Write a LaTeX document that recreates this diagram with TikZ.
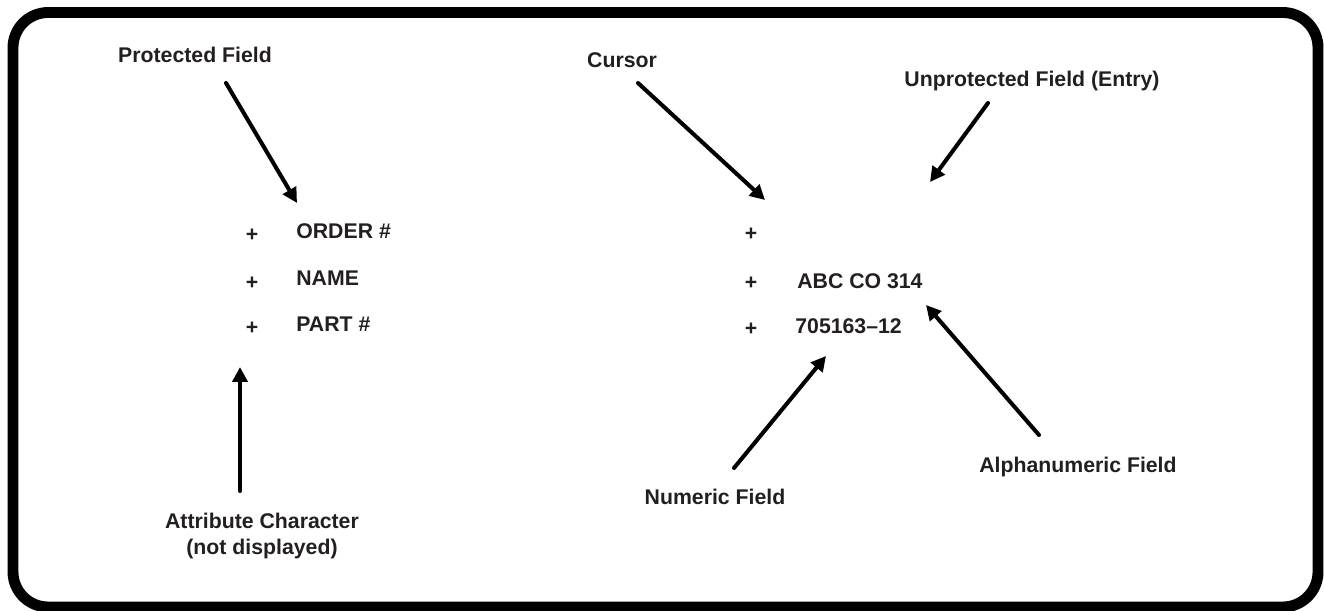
\documentclass[tikz,border=0pt]{standalone}
\usepackage{fontspec}
\setmainfont{Liberation Sans}
\usetikzlibrary{arrows.meta}
\definecolor{ink}{RGB}{35, 31, 32}

\begin{document}
\begin{tikzpicture}[x=0.02cm, y=-0.02cm,
        caption/.style={font=\fontsize{12.1}{14.7}\selectfont\bfseries, text=ink, inner sep=0pt, align=center},
        entry/.style={font=\fontsize{12.1}{14.7}\selectfont\bfseries, text=ink, inner sep=0pt, anchor=west},
        attrmark/.style={font=\fontsize{12.1}{14.7}\selectfont\bfseries, text=ink, inner sep=0pt},
        pointer/.style={-{Triangle[length=8.5pt, width=8.5pt]}, line width=2.3pt, line cap=round}]

        \useasboundingbox (0, 0) rectangle (1324, 611);

        % Screen
        \draw[line width=6.2pt, rounded corners=20pt] (13, 12.5) rectangle (1318, 607);

        % Left
        \node[attrmark] (a1) at (252, 235) {+};
        \node[attrmark] (a2) at (252, 283) {+};
        \node[attrmark] (a3) at (252, 328) {+};

        \node[entry] (order) at (296, 231) {ORDER \#};
        \node[entry] (name) at (296, 278) {NAME};
        \node[entry] (part) at (296, 324) {PART \#};

        \node[caption] (protected) at (195, 55) {Protected Field};
        \coordinate (protected tail) at (226, 83);
        \coordinate (protected tip) at (297, 203);
        \draw[pointer] (protected tail) -- (protected tip);

        \node[caption] (attribute) at (262, 536) {Attribute Character\\(not displayed)};
        \coordinate (attribute tail) at (240, 491);
        \coordinate (attribute tip) at (240, 367);
        \draw[pointer] (attribute tail) -- (attribute tip);

        % Right
        \node[attrmark] (b1) at (751, 234) {+};
        \node[attrmark] (b2) at (751, 283) {+};
        \node[attrmark] (b3) at (751, 329) {+};

        \node[entry] (company) at (797, 281) {ABC CO 314};
        \node[entry] (number) at (795, 326) {705163–12};

        \node[caption] (cursor) at (622, 60) {Cursor};
        \coordinate (cursor tail) at (638, 83);
        \coordinate (cursor tip) at (765, 200);
        \draw[pointer] (cursor tail) -- (cursor tip);

        \node[caption] (unprotected) at (1032, 81) {Unprotected Field (Entry)};
        \coordinate (unprotected tail) at (988, 103);
        \coordinate (unprotected tip) at (930, 182);
        \draw[pointer] (unprotected tail) -- (unprotected tip);

        \node[caption] (numeric) at (715, 497) {Numeric Field};
        \coordinate (numeric tail) at (734, 468);
        \coordinate (numeric tip) at (826, 356);
        \draw[pointer] (numeric tail) -- (numeric tip);

        \node[caption] (alpha) at (1078, 467) {Alphanumeric Field};
        \coordinate (alpha tail) at (1039, 435);
        \coordinate (alpha tip) at (926, 305);
        \draw[pointer] (alpha tail) -- (alpha tip);
\end{tikzpicture}
\end{document}
